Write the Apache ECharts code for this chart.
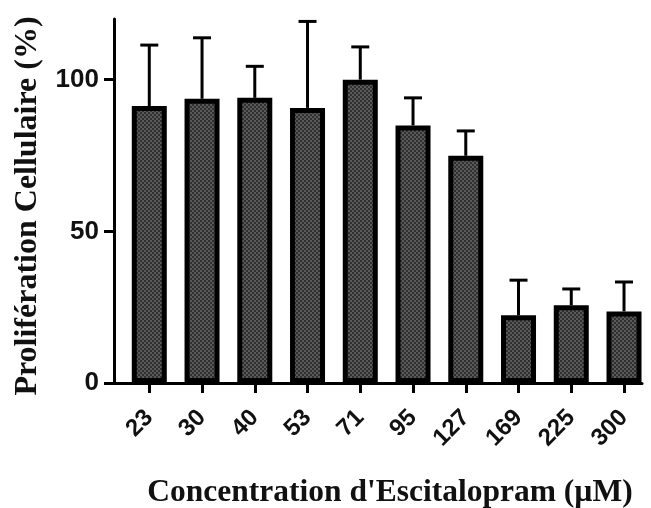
<!DOCTYPE html>
<html>
<head>
<meta charset="utf-8">
<script src="https://cdn.jsdelivr.net/npm/echarts@6/dist/echarts.min.js"></script>
<style>html,body{margin:0;padding:0;background:#fff}#c{width:651px;height:508px}</style>
</head>
<body>
<div id="c"></div>
<script>
// ---- data ----
var categories = ['23', '30', '40', '53', '71', '95', '127', '169', '225', '300'];
var meanValues = [91.3, 93.7, 94.0, 90.7, 100.0, 84.9, 74.9, 22.3, 25.6, 23.6];
var upperValues = [111.4, 113.8, 104.4, 119.2, 110.8, 94.0, 83.1, 33.9, 31.0, 33.3];
var yTicks = [0, 50, 100];
var yTitle = 'Prolifération Cellulaire (%)';
var xTitle = "Concentration d'Escitalopram (µM)";

// checker pattern fill
var pat = document.createElement('canvas');
pat.width = 4; pat.height = 4;
var g = pat.getContext('2d');
g.fillStyle = '#5a5a5a'; g.fillRect(0, 0, 4, 4);
g.fillStyle = '#303030'; g.fillRect(0, 0, 2, 2); g.fillRect(2, 2, 2, 2);

var idx = categories.map(function (c, i) { return i; });
var barData = meanValues.map(function (v, i) { return [i, v]; });
var errData = meanValues.map(function (v, i) { return [i, v, upperValues[i]]; });

var chart = echarts.init(document.getElementById('c'));
var sansFont = 'Liberation Sans, Arial, sans-serif';
var serifFont = 'Liberation Serif, Times New Roman, serif';
chart.setOption({
  animation: false,
  backgroundColor: '#fff',
  grid: { left: 114, right: 9, top: 19, bottom: 125, containLabel: false, outerBoundsMode: 'none' },
  xAxis: {
    type: 'value', min: -0.669, max: 9.341,
    splitLine: { show: false },
    axisLine: { show: true, onZero: false, lineStyle: { color: '#000', width: 3 } },
    axisTick: { show: true, length: 10, lineStyle: { color: '#000', width: 3 }, customValues: idx },
    axisLabel: { rotate: 45, margin: 31, customValues: idx,
      fontFamily: sansFont, fontWeight: 'bold', fontSize: 24, color: '#111',
      formatter: function (v) { return categories[Math.round(v)]; } },
    name: xTitle, nameLocation: 'middle', nameGap: 94,
    nameTextStyle: { fontFamily: serifFont, fontWeight: 'bold', fontSize: 31.5, color: '#111', padding: [0, 0, 0, 24] }
  },
  yAxis: {
    type: 'value', min: 0, max: 120,
    splitLine: { show: false },
    axisLine: { show: true, onZero: false, lineStyle: { color: '#000', width: 3 } },
    axisTick: { show: true, length: 10, lineStyle: { color: '#000', width: 3 }, customValues: yTicks },
    axisLabel: { margin: 15, customValues: yTicks, fontSize: 26, fontFamily: sansFont, fontWeight: 'bold', color: '#111' },
    name: yTitle, nameLocation: 'middle', nameGap: 70,
    nameTextStyle: { fontFamily: serifFont, fontWeight: 'bold', fontSize: 32, color: '#111', padding: [0, 10, 0, 0] }
  },
  series: [
    {
      type: 'bar', data: barData, barWidth: 35, barMinWidth: 35,
      itemStyle: { color: { image: pat, repeat: 'repeat' }, borderColor: '#000', borderWidth: 5 },
      z: 2
    },
    {
      type: 'custom', data: errData, z: 3,
      renderItem: function (params, api) {
        var x = api.value(0);
        var p0 = api.coord([x, api.value(1)]);
        var p1 = api.coord([x, api.value(2)]);
        var hw = 9;
        return {
          type: 'group',
          children: [
            { type: 'line', shape: { x1: p0[0], y1: p0[1], x2: p1[0], y2: p1[1] }, style: { stroke: '#000', lineWidth: 3 } },
            { type: 'line', shape: { x1: p1[0] - hw, y1: p1[1], x2: p1[0] + hw, y2: p1[1] }, style: { stroke: '#000', lineWidth: 3 } }
          ]
        };
      }
    }
  ]
});
</script>
</body>
</html>
